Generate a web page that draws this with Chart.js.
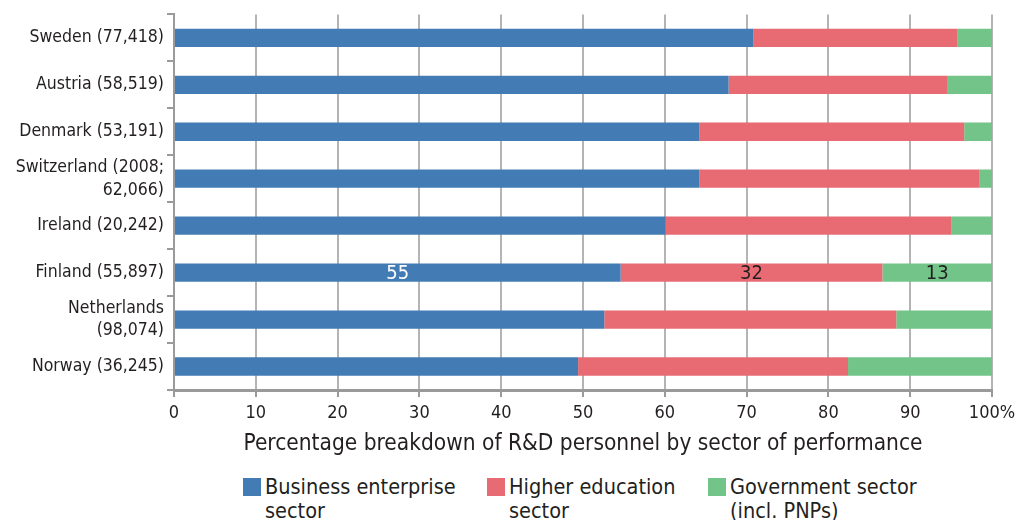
<!DOCTYPE html>
<html lang="en">
<head>
<meta charset="utf-8"/>
<title>R&amp;D personnel by sector</title>
<script src="https://cdn.jsdelivr.net/npm/chart.js"></script>
<style>
  body {
    margin: 0;
    background: #fff;
    font-family: 'Liberation Sans Narrow', 'DejaVu Sans Condensed', sans-serif;
    color: #231f20;
  }
  .wrap {
    position: relative;
    width: 1023px;
    height: 520px;
  }
  .chart-box {
    position: absolute;
    left: 0;
    top: 0;
    width: 1023px;
    height: 462px;
  }
  .legend {
    position: absolute;
    top: 475px;
    left: 0;
    width: 1023px;
    font-size: 21.5px;
    line-height: 24px;
  }
  .legend .item {
    position: absolute;
    top: 0;
  }
  .legend .sw {
    position: absolute;
    left: 0;
    top: 3px;
    width: 18px;
    height: 18px;
  }
  .legend .txt {
    position: absolute;
    left: 22px;
    top: 0;
    white-space: nowrap;
  }
</style>
</head>
<body>
<div class="wrap">
  <div class="chart-box"><canvas id="barChart"></canvas></div>
  <div class="legend" id="legend"></div>
</div>
<script>
  const countries = [
    'Sweden (77,418)',
    'Austria (58,519)',
    'Denmark (53,191)',
    ['Switzerland (2008;', '62,066)'],
    'Ireland (20,242)',
    'Finland (55,897)',
    ['Netherlands', '(98,074)'],
    'Norway (36,245)'
  ];
  const business = [70.8, 67.8, 64.2, 64.2, 60.1, 54.6, 52.6, 49.4];
  const higherEd = [25.0, 26.7, 32.4, 34.3, 34.9, 32.0, 35.7, 33.0];
  const government = [4.2, 5.5, 3.4, 1.5, 5.0, 13.4, 11.7, 17.6];
  const seriesNames = [
    ['Business enterprise', 'sector'],
    ['Higher education', 'sector'],
    ['Government sector', '(incl. PNPs)']
  ];
  const xTicks = [0, 10, 20, 30, 40, 50, 60, 70, 80, 90, 100];
  const labelledRow = 5; // Finland

  const colors = ['#437cb4', '#e86b74', '#72c489'];
  const fontFamily = "'Liberation Sans Narrow', 'DejaVu Sans Condensed', sans-serif";

  // draws the numbers inside the Finland bar
  const finlandLabels = {
    id: 'finlandLabels',
    afterDatasetsDraw(chart) {
      const ctx = chart.ctx;
      ctx.save();
      ctx.font = '20px ' + fontFamily;
      ctx.textAlign = 'center';
      ctx.textBaseline = 'middle';
      chart.data.datasets.forEach((ds, i) => {
        const bar = chart.getDatasetMeta(i).data[labelledRow];
        const left = bar.base;
        const right = bar.x;
        ctx.fillStyle = i === 0 ? '#ffffff' : '#231f20';
        ctx.fillText(Math.round(ds.data[labelledRow]), (left + right) / 2, bar.y + 1);
      });
      ctx.restore();
    }
  };

  const barCtx = document.getElementById('barChart').getContext('2d');
  new Chart(barCtx, {
    type: 'bar',
    data: {
      labels: countries,
      datasets: [
        { label: 'Business enterprise sector', data: business, backgroundColor: colors[0] },
        { label: 'Higher education sector', data: higherEd, backgroundColor: colors[1] },
        { label: 'Government sector (incl. PNPs)', data: government, backgroundColor: colors[2] }
      ]
    },
    options: {
      indexAxis: 'y',
      responsive: true,
      maintainAspectRatio: false,
      animation: false,
      layout: { padding: { top: 0, right: 31, left: 0, bottom: 0 } },
      datasets: {
        bar: { barPercentage: 0.78, categoryPercentage: 0.5 }
      },
      plugins: {
        legend: { display: false },
        tooltip: { enabled: false }
      },
      scales: {
        x: {
          stacked: true,
          min: 0,
          max: 100,
          afterBuildTicks(axis) {
            axis.ticks = xTicks.map(v => ({ value: v }));
          },
          afterFit(axis) { axis.height = 72; },
          ticks: {
            color: '#231f20',
            font: { family: fontFamily, size: 18 },
            padding: 6,
            maxRotation: 0,
            callback: v => v === 100 ? '100%' : v
          },
          grid: { color: '#b4b4b4', lineWidth: 2, tickLength: 7, tickColor: '#9a9a9a' },
          border: { color: '#9a9a9a', width: 3 },
          title: {
            display: true,
            text: 'Percentage breakdown of R&D personnel by sector of performance',
            color: '#231f20',
            font: { family: fontFamily, size: 22.5 },
            padding: { top: 0 }
          }
        },
        y: {
          stacked: true,
          afterFit(axis) { axis.width = 174; },
          ticks: {
            color: '#231f20',
            autoSkip: false,
            font: { family: fontFamily, size: 17.5, lineHeight: 1.3 },
            padding: 3
          },
          grid: { offset: true, drawOnChartArea: false, tickLength: 7, color: '#9a9a9a', lineWidth: 2 },
          border: { color: '#9a9a9a', width: 2 }
        }
      }
    },
    plugins: [finlandLabels]
  });

  // legend with two-line entries
  const legendX = [243, 487, 708];
  const legend = document.getElementById('legend');
  seriesNames.forEach((name, i) => {
    const item = document.createElement('div');
    item.className = 'item';
    item.style.left = legendX[i] + 'px';
    item.innerHTML = '<span class="sw" style="background:' + colors[i] + '"></span>' +
      '<span class="txt">' + name.join('<br>') + '</span>';
    legend.appendChild(item);
  });
</script>
</body>
</html>
